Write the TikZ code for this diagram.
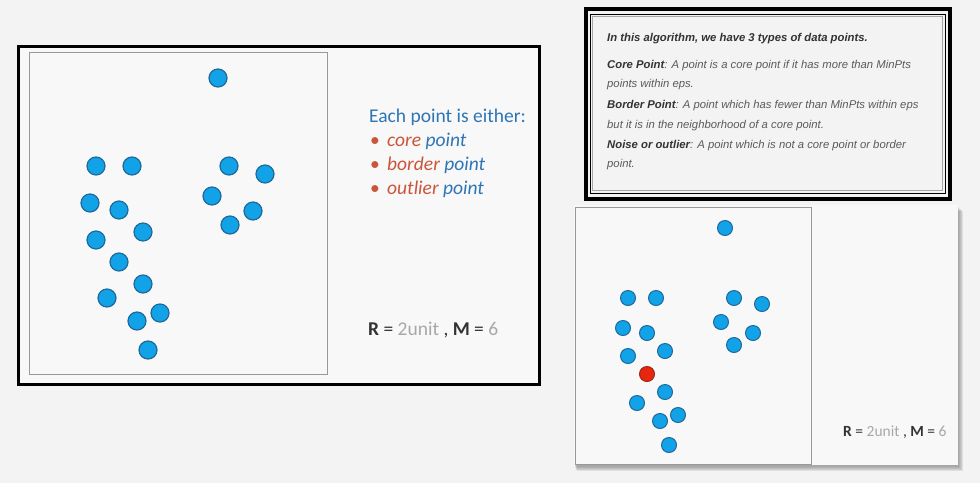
\documentclass[tikz,border=0pt]{standalone}
\usepackage{fontspec}
\setmainfont{Carlito}
\newfontfamily\arialf{Liberation Sans}
\definecolor{bgc}{HTML}{F3F3F3}
\definecolor{panelc}{HTML}{F8F8F8}
\definecolor{dotc}{HTML}{12A2E8}
\definecolor{dotb}{HTML}{1E6A9A}
\definecolor{redc}{HTML}{E8250E}
\definecolor{redb}{HTML}{9A2A1A}
\definecolor{txtblue}{HTML}{2E75B6}
\definecolor{txtred}{HTML}{C9553A}
\definecolor{txtgray}{HTML}{A8A8A8}
\definecolor{dark}{HTML}{333333}
\definecolor{mid}{HTML}{5A5A5A}
\tikzset{
  dotL/.style={circle,fill=dotc,draw=dotb,line width=1.2pt,minimum size=18pt,inner sep=0pt},
  dotR/.style={circle,fill=dotc,draw=dotb,line width=1pt,minimum size=15pt,inner sep=0pt},
  dotRed/.style={circle,fill=redc,draw=redb,line width=1pt,minimum size=15pt,inner sep=0pt},
  plotbox/.style={draw=gray!80,line width=0.9pt,fill=panelc},
  info/.style={anchor=base west,inner sep=0pt,font=\arialf\fontsize{11.3}{13}\selectfont\itshape,text=mid},
  big/.style={anchor=base west,inner sep=0pt,font=\fontsize{19.5}{22}\selectfont},
}
\begin{document}
\begin{tikzpicture}[x=1pt,y=-1pt]
\fill[bgc] (0,0) rectangle (980,483);
\useasboundingbox (0,0) rectangle (980,483);
% ---------- left panel
\node[draw=black,line width=3pt,fill=panelc,minimum width=521pt,minimum height=338pt,inner sep=0pt,anchor=north west] (lpanel) at (17,45) {};
\node[plotbox,minimum width=298pt,minimum height=322pt,inner sep=0pt,anchor=north west] (lplot) at (29,52) {};
\foreach \n/\x/\y in {a/218/78,b/96/166,c/132/166,d/229/166,e/265/174,f/90/203,g/119/210,h/212/196,i/253/211,j/230/225,k/96/240,l/143/232,m/119/262,n/143/284,o/107/298,p/160/313,q/137/321,r/148/350}
  \node[dotL] (L\n) at (\x,\y) {};
\node[big,text=txtblue] (each) at (369,122) {Each point is either:};
\node[big,text=txtred] (b1) at (370,146) {\textbullet};
\node[big] (t1) at (387,146) {\textit{\textcolor{txtred}{core} \textcolor{txtblue}{point}}};
\node[big,text=txtred] (b2) at (370,170) {\textbullet};
\node[big] (t2) at (387,170) {\textit{\textcolor{txtred}{border} \textcolor{txtblue}{point}}};
\node[big,text=txtred] (b3) at (370,194) {\textbullet};
\node[big] (t3) at (387,194) {\textit{\textcolor{txtred}{outlier} \textcolor{txtblue}{point}}};
\node[anchor=base west,inner sep=0pt,font=\fontsize{19.5}{22}\selectfont] (rm1) at (368,335)
  {\textcolor{dark}{\textbf{R} =} \textcolor{txtgray}{2unit} \textcolor{dark}{, \textbf{M} =} \textcolor{txtgray}{6}};
% ---------- right top info box
\node[draw=black,line width=3.5pt,fill=bgc,minimum width=364pt,minimum height=190pt,inner sep=0pt,anchor=north west] (ibox) at (584,7) {};
\node[draw=black,line width=1.5pt,minimum width=355pt,minimum height=179pt,inner sep=0pt] (ibox2) at (ibox.center) {};
\node[draw=gray!70,line width=0.6pt,minimum width=350pt,minimum height=174pt,inner sep=0pt] (ibox3) at (ibox.center) {};
\node[info,font=\arialf\fontsize{11.3}{13}\selectfont\bfseries\itshape,text=dark] (h) at (607,41) {In this algorithm, we have 3 types of data points.};
\node[info] (c1) at (607,68) {\textbf{\textcolor{dark}{Core Point}}: A point is a core point if it has more than MinPts};
\node[info] (c2) at (607,87) {points within eps.};
\node[info] (c3) at (607,108) {\textbf{\textcolor{dark}{Border Point}}: A point which has fewer than MinPts within eps};
\node[info] (c4) at (607,128) {but it is in the neighborhood of a core point.};
\node[info] (c5) at (607,148) {\textbf{\textcolor{dark}{Noise or outlier}}: A point which is not a core point or border};
\node[info] (c6) at (607,167) {point.};
% ---------- right bottom panel
\foreach \k/\o in {1/0.06,2/0.06,3/0.07,4/0.08,5/0.08}
  \fill[black,opacity=\o] (574+\k*0.5,206+\k) rectangle (958+\k,466+\k);
\node[fill=panelc,minimum width=384pt,minimum height=260pt,inner sep=0pt,anchor=north west] (rpanel) at (574,205) {};
\node[plotbox,minimum width=236pt,minimum height=257pt,inner sep=0pt,anchor=north west] (rplot) at (575,207) {};
\foreach \n/\x/\y in {a/725/228,b/628/298,c/656/298,d/734/298,e/762/304,f/623/328,g/647/333,h/721/322,i/753/333,j/734/345,k/628/356,l/665/351,n/665/392,o/637/403,p/678/415,q/660/421,r/669/445}
  \node[dotR] (R\n) at (\x,\y) {};
\node[dotRed] (Rm) at (647,374) {};
\node[anchor=base west,inner sep=0pt,font=\fontsize{15.5}{18}\selectfont] (rm2) at (843,436)
  {\textcolor{dark}{\textbf{R} =} \textcolor{txtgray}{2unit} \textcolor{dark}{, \textbf{M} =} \textcolor{txtgray}{6}};
\end{tikzpicture}
\end{document}
